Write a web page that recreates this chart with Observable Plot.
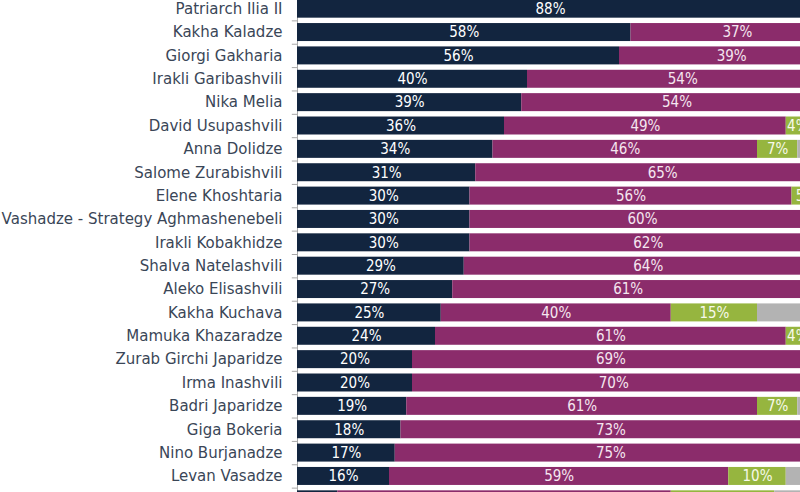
<!DOCTYPE html>
<html>
<head>
<meta charset="utf-8">
<script src="https://cdn.jsdelivr.net/npm/d3@7"></script>
<script src="https://cdn.jsdelivr.net/npm/@observablehq/plot@0.6"></script>
<style>
  html, body { margin: 0; padding: 0; background: #fff; }
  #chart { position: relative; width: 800px; height: 492px; overflow: hidden; }
  #chart svg { position: absolute; left: -103px; top: -3px; max-width: none; }
</style>
</head>
<body>
<div id="chart"></div>
<script>
// Politicians, in the order they are ranked
const names = [
  "Patriarch Ilia II",
  "Kakha Kaladze",
  "Giorgi Gakharia",
  "Irakli Garibashvili",
  "Nika Melia",
  "David Usupashvili",
  "Anna Dolidze",
  "Salome Zurabishvili",
  "Elene Khoshtaria",
  "Giorgi Vashadze - Strategy Aghmashenebeli",
  "Irakli Kobakhidze",
  "Shalva Natelashvili",
  "Aleko Elisashvili",
  "Kakha Kuchava",
  "Mamuka Khazaradze",
  "Zurab Girchi Japaridze",
  "Irma Inashvili",
  "Badri Japaridze",
  "Giga Bokeria",
  "Nino Burjanadze",
  "Levan Vasadze",
  "Levan Khabeishvili"
];

// Shares of respondents (%)
const favorable   = [88, 58, 56, 40, 39, 36, 34, 31, 30, 30, 30, 29, 27, 25, 24, 20, 20, 19, 18, 17, 16, 7];
const unfavorable = [ 7, 37, 39, 54, 54, 49, 46, 65, 56, 60, 62, 64, 61, 40, 61, 69, 70, 61, 73, 75, 59, 58];
const neverHeard  = [ 1,  1,  1,  2,  2,  4,  7,  1,  5,  3,  2,  2,  3, 15,  4,  3,  3,  7,  2,  2, 10, 18];
const dontKnow    = [ 4,  4,  4,  4,  5, 11, 13,  3,  9,  7,  6,  5,  9, 20, 11,  8,  7, 13,  7,  6, 15, 17];

const categories = ["Favorable", "Unfavorable", "Never heard of", "Don't know"];
const series = [favorable, unfavorable, neverHeard, dontKnow];

const barColor  = {"Favorable": "#12253f", "Unfavorable": "#8b2c6b", "Never heard of": "#96b53f", "Don't know": "#b3b3b3"};
const textColor = {"Favorable": "#ffffff", "Unfavorable": "#f5e6f0", "Never heard of": "#f6f9ea", "Don't know": "#ffffff"};

const rows = names.flatMap((name, i) =>
  categories.map((cat, k) => ({name, cat, value: series[k][i]}))
);

const height = 514;
const step = height / names.length;

const chart = Plot.plot({
  width: 975,
  height,
  marginLeft: 400,
  marginRight: 0,
  marginTop: 0,
  marginBottom: 0,
  x: {domain: [0, 100], axis: null},
  y: {domain: names, paddingInner: 0.23, paddingOuter: 0.115, align: 0.5, round: false, tickSize: 0, tickPadding: 15, label: null},
  color: {type: "identity"},
  style: {fontFamily: "DejaVu Sans", fontSize: "15px", color: "#3a4657", background: "#fff", maxWidth: "none"},
  marks: [
    Plot.ruleX([0], {stroke: "#a9a9a9"}),
    // small category ticks between rows
    Plot.ruleY(names, {y: d => d, x1: -0.9, x2: 0, dy: step / 2, stroke: "#a9a9a9"}),
    Plot.barX(rows, Plot.stackX({y: "name", x: "value", z: "cat", fill: d => barColor[d.cat]})),
    Plot.text(rows, Plot.stackX({
      y: "name", x: "value", z: "cat",
      text: d => d.value >= 3 ? d.value + "%" : "",
      fill: d => textColor[d.cat],
      fontFamily: "DejaVu Sans Condensed",
      fontSize: 15
    }))
  ]
});

document.getElementById("chart").appendChild(chart);
</script>
</body>
</html>
